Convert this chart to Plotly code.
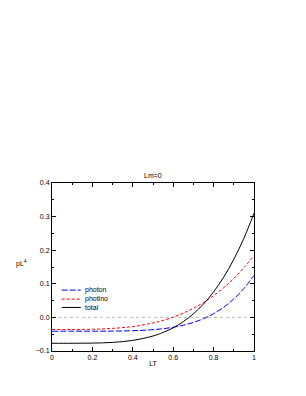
import plotly.graph_objects as go

LT = [0.0, 0.1, 0.2, 0.3, 0.4, 0.5, 0.55, 0.6, 0.65, 0.7, 0.75, 0.8, 0.85, 0.9, 0.95, 1.0]
photon = [-0.041, -0.041, -0.041, -0.0407, -0.0396, -0.0365, -0.0336, -0.0294, -0.0233, -0.015,
          -0.0038, 0.011, 0.0303, 0.055, 0.086, 0.125]
photino = [-0.036, -0.036, -0.0352, -0.0327, -0.0271, -0.0166, -0.0088, 0.0008, 0.0127, 0.0271,
           0.0444, 0.0648, 0.0886, 0.116, 0.1479, 0.184]
total = [-0.077, -0.077, -0.0765, -0.0744, -0.0684, -0.0554, -0.0448, -0.031, -0.0125, 0.0107,
         0.0399, 0.076, 0.1198, 0.173, 0.2356, 0.310]

series_names = ["photon", "photino", "total"]
series_colors = ["#0000ff", "#ff0000", "#000000"]
series_dashes = ["6px,2px", "3px,2px", "solid"]

x_ticks = [0, 0.2, 0.4, 0.6, 0.8, 1.0]
x_tick_labels = ["0", "0.2", "0.4", "0.6", "0.8", "1"]
y_ticks = [-0.1, 0.0, 0.1, 0.2, 0.3, 0.4]
y_tick_labels = ["\u22120.1", "0.0", "0.1", "0.2", "0.3", "0.4"]

FONT = "Liberation Sans, Arial, sans-serif"

fig = go.Figure()
for name, ys, col, dash in zip(series_names, [photon, photino, total], series_colors, series_dashes):
    fig.add_trace(go.Scatter(x=LT, y=ys, mode="lines", name=name, showlegend=False,
                             line=dict(color=col, width=1, dash=dash, shape="spline")))

fig.add_shape(type="line", xref="paper", x0=0, x1=1, yref="y", y0=0, y1=0,
              line=dict(color="#bbbbbb", width=1, dash="dot"), layer="below")

# manual legend (compact, like the reference)
leg_rows = [0.3626, 0.3088, 0.2593]
for name, col, dash, yy in zip(series_names, series_colors, series_dashes, leg_rows):
    fig.add_shape(type="line", xref="paper", yref="paper", x0=0.048, x1=0.1425, y0=yy, y1=yy,
                  line=dict(color=col, width=1, dash=dash))
    fig.add_annotation(text=name, xref="paper", yref="paper", x=0.152, y=yy,
                       showarrow=False, xanchor="left", yanchor="middle",
                       font=dict(family=FONT, size=7, color="black"))

axis_common = dict(showline=True, linecolor="black", linewidth=1, mirror="ticks",
                   ticks="inside", ticklen=4, tickwidth=1, tickcolor="black",
                   showgrid=False, zeroline=False,
                   tickfont=dict(family=FONT, size=7, color="black"))

fig.update_xaxes(range=[0, 1], tickvals=x_ticks, ticktext=x_tick_labels,
                 minor=dict(ticks="inside", ticklen=2, dtick=0.1, tickcolor="black", showgrid=False),
                 title=dict(text="LT", font=dict(family=FONT, size=7, color="black"), standoff=0),
                 **axis_common)
fig.update_yaxes(range=[-0.1, 0.4], tickvals=y_ticks, ticktext=y_tick_labels,
                 minor=dict(ticks="inside", ticklen=2, dtick=0.05, tickcolor="black", showgrid=False),
                 **axis_common)

fig.add_annotation(text="pL<sup>4</sup>", xref="paper", yref="paper", x=-0.15, y=0.52,
                   showarrow=False, xanchor="center", yanchor="middle",
                   font=dict(family=FONT, size=7, color="black"))
fig.add_annotation(text="Lm=0", xref="paper", yref="paper", x=0.5, y=1.0, yshift=2,
                   showarrow=False, xanchor="center", yanchor="bottom",
                   font=dict(family=FONT, size=7, color="black"))

# page body has an 8px default margin, so shift the plot area up/left by 8px
fig.update_layout(
    width=306, height=396,
    margin=dict(l=44, r=60, t=175, b=53),
    paper_bgcolor="white", plot_bgcolor="white",
    showlegend=False,
)

fig.write_html("out.html")
